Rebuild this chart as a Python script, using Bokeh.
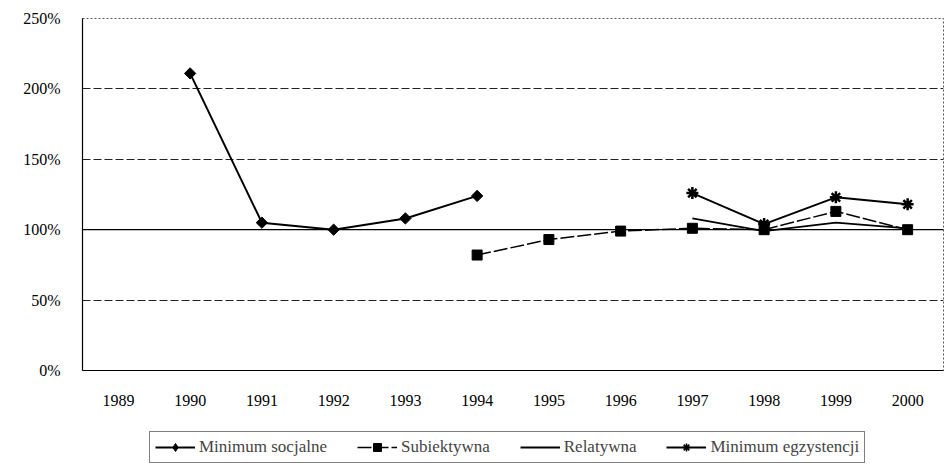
import numpy as np
from bokeh.plotting import figure
from bokeh.layouts import column
from bokeh.models import Legend, LegendItem, Span, FixedTicker, CustomJSTickFormatter
from bokeh.embed import file_html
from bokeh.resources import INLINE

years = [1989, 1990, 1991, 1992, 1993, 1994, 1995, 1996, 1997, 1998, 1999, 2000]
nan = float("nan")
min_socjalne = [nan, 211, 105, 100, 108, 124, nan, nan, nan, nan, nan, nan]
subiektywna = [nan, nan, nan, nan, nan, 82, 93, 99, 101, 100, 113, 100]
relatywna = [nan, nan, nan, nan, nan, nan, nan, nan, 108, 99, 105, 101]
min_egzystencji = [nan, nan, nan, nan, nan, nan, nan, nan, 126, 104, 123, 118]
y_ticks = [0, 50, 100, 150, 200, 250]
series_names = ["Minimum socjalne", "Subiektywna", "Relatywna", "Minimum egzystencji"]

FONT = "Liberation Serif"

p = figure(width=945, height=408, output_backend="svg", toolbar_location=None,
           x_range=(1988.5, 2000.5), y_range=(0, 250),
           min_border_left=82, min_border_top=18, min_border_right=2, min_border_bottom=35)
p.background_fill_color = "white"
p.border_fill_color = "white"
p.outline_line_color = "#555555"
p.outline_line_dash = "2 2"
p.outline_line_width = 1

p.xaxis.ticker = FixedTicker(ticks=years)
p.yaxis.ticker = FixedTicker(ticks=y_ticks)
p.yaxis.formatter = CustomJSTickFormatter(code="return tick + '%';")
for ax in (p.xaxis[0], p.yaxis[0]):
    ax.major_tick_line_color = None
    ax.minor_tick_line_color = None
    ax.major_label_text_font = FONT
    ax.major_label_text_font_size = "16px"
    ax.major_label_text_color = "black"
    ax.axis_line_color = "black"
    ax.axis_line_width = 1.2
p.yaxis.major_label_standoff = 16
p.xaxis.major_label_standoff = 18

p.xgrid.grid_line_color = None
p.ygrid.grid_line_color = "#222222"
p.ygrid.grid_line_dash = "8 3"
p.ygrid.grid_line_width = 1
p.add_layout(Span(location=100, dimension="width", line_color="black", line_width=1.2))

styles = [
    dict(line=dict(line_color="black", line_width=2),
         marker=dict(marker="square", angle=np.pi / 4, size=8, color="black"),
         lmarker=dict(marker="diamond", color="black")),
    dict(line=dict(line_color="black", line_width=1.5, line_dash="14 3"),
         marker=dict(marker="square", size=10, color="black"),
         lmarker=dict(marker="square", color="black")),
    dict(line=dict(line_color="black", line_width=1.8), marker=None, lmarker=None),
    dict(line=dict(line_color="black", line_width=2),
         marker=dict(marker="asterisk", size=12, line_color="black", line_width=2.5),
         lmarker=dict(marker="asterisk", line_color="black", line_width=1.6)),
]
data = [min_socjalne, subiektywna, relatywna, min_egzystencji]

for vals, st in zip(data, styles):
    p.line(years, vals, **st["line"])
    if st["marker"]:
        p.scatter(years, vals, **st["marker"])

# legend in its own strip below the chart (frames are aligned with the chart)
lf = figure(width=945, height=56, output_backend="svg", toolbar_location=None,
            x_range=(0, 1), y_range=(0, 1), x_axis_type=None, y_axis_type=None,
            min_border=0, min_border_left=0, min_border_right=0, min_border_top=0, min_border_bottom=0)
lf.outline_line_color = None
lf.grid.grid_line_color = None
items = []
for name, st in zip(series_names, styles):
    rs = [lf.line([-5, -4], [-5, -5], **st["line"])]
    if st["lmarker"]:
        rs.append(lf.scatter([-5], [-5], **st["lmarker"]))
    items.append(LegendItem(label=name, renderers=rs))

legend = Legend(items=items, orientation="horizontal", location=(67, 1))
legend.label_text_font = FONT
legend.label_text_font_size = "17px"
legend.label_standoff = 4
legend.glyph_width = 40
legend.glyph_height = 20
legend.label_height = 20
legend.spacing = 30
legend.padding = 5
legend.margin = 0
legend.border_line_color = "black"
legend.border_line_width = 1
legend.background_fill_alpha = 0
lf.add_layout(legend, "center")

layout = column(p, lf, spacing=0)
open("out.html", "w").write(file_html(layout, INLINE))
